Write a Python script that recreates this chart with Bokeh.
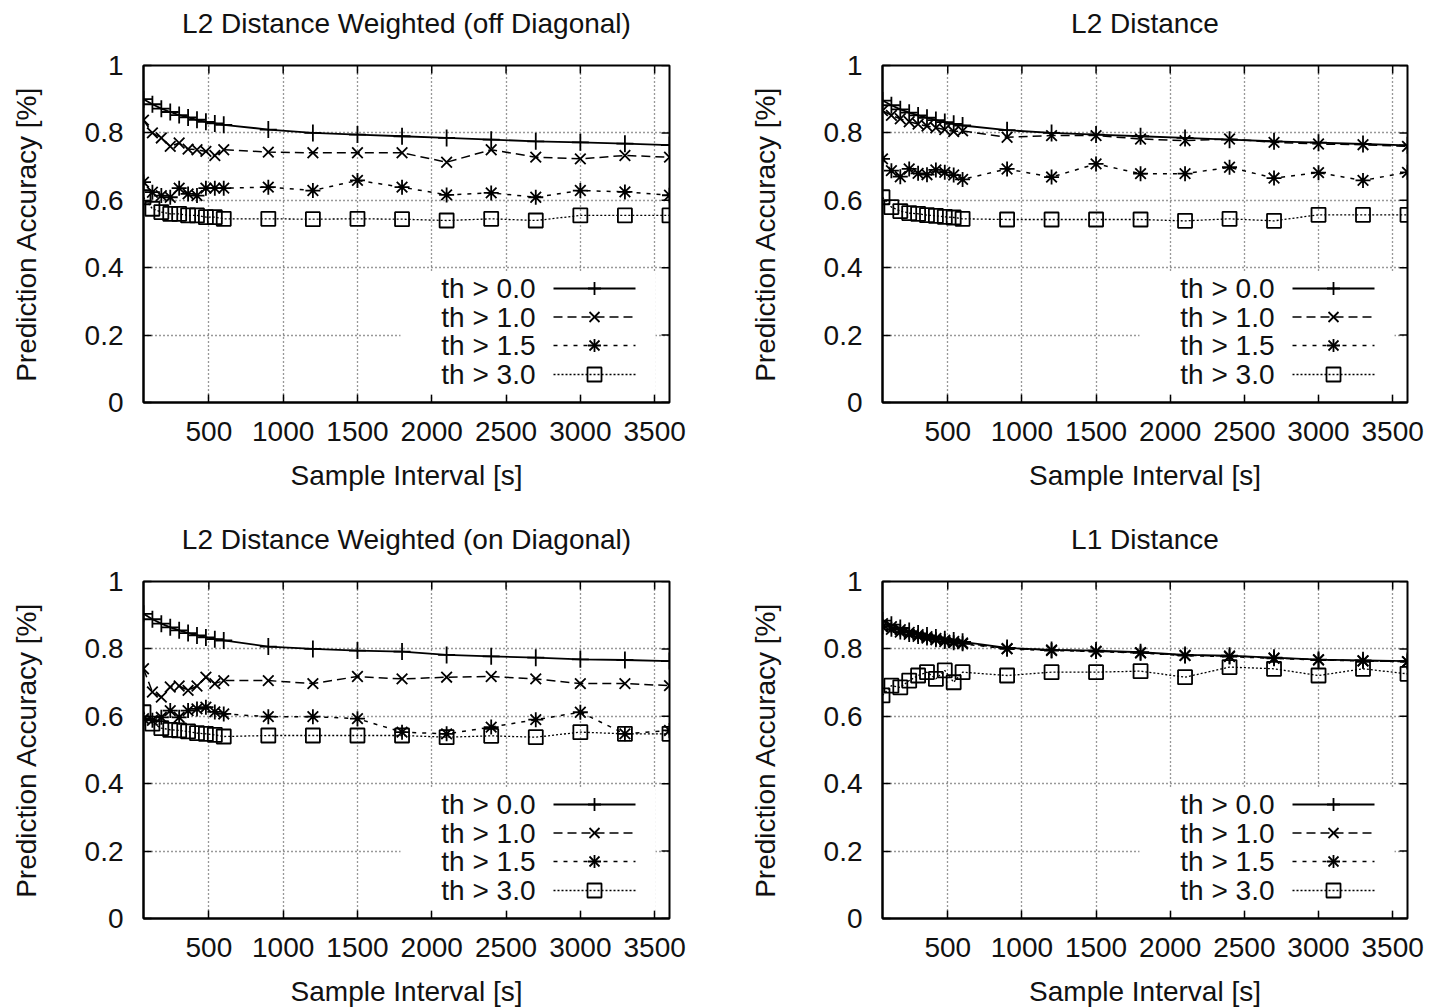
import math
from bokeh.plotting import figure
from bokeh.layouts import column, row
from bokeh.models import (Range1d, FixedTicker, CustomJSTickFormatter, LinearAxis,
                          Label, BoxAnnotation, Arrow)
from bokeh.embed import file_html
from bokeh.resources import INLINE

FONT = "Liberation Sans"

# ---------------- data ----------------
x_vals = [60, 120, 180, 240, 300, 360, 420, 480, 540, 600,
          900, 1200, 1500, 1800, 2100, 2400, 2700, 3000, 3300, 3600]
series_labels = ["th > 0.0", "th > 1.0", "th > 1.5", "th > 3.0"]
x_ticks = [500, 1000, 1500, 2000, 2500, 3000, 3500]
y_ticks = [0, 0.2, 0.4, 0.6, 0.8, 1]
x_title = "Sample Interval [s]"
y_title = "Prediction Accuracy [%]"

title_off_diag = "L2 Distance Weighted (off Diagonal)"
off_th00 = [0.900, 0.885, 0.872, 0.862, 0.853, 0.846, 0.839, 0.833, 0.828, 0.824,
            0.810, 0.800, 0.795, 0.790, 0.785, 0.780, 0.775, 0.772, 0.768, 0.764]
off_th10 = [0.838, 0.800, 0.785, 0.760, 0.770, 0.752, 0.750, 0.745, 0.733, 0.750,
            0.743, 0.741, 0.741, 0.741, 0.713, 0.750, 0.728, 0.723, 0.733, 0.728]
off_th15 = [0.654, 0.624, 0.614, 0.609, 0.636, 0.619, 0.614, 0.636, 0.636, 0.636,
            0.639, 0.629, 0.659, 0.639, 0.616, 0.622, 0.609, 0.629, 0.625, 0.615]
off_th30 = [0.609, 0.575, 0.565, 0.560, 0.560, 0.555, 0.555, 0.550, 0.550, 0.545,
            0.545, 0.544, 0.545, 0.544, 0.540, 0.545, 0.540, 0.555, 0.555, 0.555]

title_l2 = "L2 Distance"
l2_th00 = [0.896, 0.882, 0.870, 0.860, 0.852, 0.845, 0.838, 0.832, 0.827, 0.822,
           0.808, 0.800, 0.795, 0.790, 0.785, 0.780, 0.775, 0.771, 0.767, 0.763]
l2_th10 = [0.866, 0.852, 0.842, 0.833, 0.826, 0.820, 0.815, 0.810, 0.804, 0.806,
           0.787, 0.792, 0.792, 0.782, 0.777, 0.782, 0.772, 0.767, 0.765, 0.760]
l2_th15 = [0.723, 0.688, 0.670, 0.693, 0.680, 0.676, 0.690, 0.683, 0.675, 0.662,
           0.693, 0.669, 0.708, 0.679, 0.679, 0.698, 0.666, 0.682, 0.659, 0.683]
l2_th30 = [0.609, 0.580, 0.568, 0.562, 0.560, 0.556, 0.554, 0.551, 0.549, 0.545,
           0.543, 0.543, 0.543, 0.543, 0.539, 0.545, 0.539, 0.557, 0.557, 0.557]

title_on_diag = "L2 Distance Weighted (on Diagonal)"
on_th00 = [0.904, 0.888, 0.875, 0.864, 0.855, 0.847, 0.840, 0.834, 0.829, 0.825,
           0.807, 0.800, 0.795, 0.792, 0.782, 0.778, 0.774, 0.769, 0.767, 0.764]
on_th10 = [0.741, 0.672, 0.657, 0.687, 0.690, 0.677, 0.690, 0.716, 0.697, 0.706,
           0.706, 0.697, 0.718, 0.711, 0.716, 0.718, 0.711, 0.697, 0.697, 0.691]
on_th15 = [0.593, 0.588, 0.597, 0.617, 0.597, 0.617, 0.622, 0.627, 0.613, 0.607,
           0.599, 0.599, 0.593, 0.553, 0.548, 0.568, 0.590, 0.612, 0.548, 0.558]
on_th30 = [0.612, 0.578, 0.565, 0.560, 0.558, 0.555, 0.550, 0.548, 0.545, 0.540,
           0.543, 0.543, 0.543, 0.543, 0.538, 0.542, 0.538, 0.553, 0.548, 0.548]

title_l1 = "L1 Distance"
l1_th00 = [0.884, 0.872, 0.862, 0.853, 0.846, 0.840, 0.834, 0.829, 0.825, 0.821,
           0.803, 0.797, 0.795, 0.790, 0.782, 0.780, 0.774, 0.768, 0.766, 0.764]
l1_th10 = [0.875, 0.866, 0.857, 0.849, 0.842, 0.836, 0.831, 0.826, 0.822, 0.818,
           0.801, 0.797, 0.793, 0.789, 0.781, 0.779, 0.773, 0.768, 0.765, 0.762]
l1_th15 = [0.866, 0.858, 0.850, 0.843, 0.837, 0.832, 0.827, 0.822, 0.818, 0.815,
           0.800, 0.795, 0.792, 0.788, 0.780, 0.777, 0.772, 0.767, 0.764, 0.762]
l1_th30 = [0.662, 0.691, 0.686, 0.706, 0.721, 0.731, 0.711, 0.736, 0.701, 0.731,
           0.721, 0.731, 0.731, 0.734, 0.716, 0.746, 0.741, 0.721, 0.741, 0.726]

# ---------------- styles ----------------
STYLES = [
    dict(dash="solid", marker="cross", size=17, lw=1.8),
    dict(dash="9 5", marker="x", size=15, lw=1.5),
    dict(dash="4 6", marker="asterisk", size=15, lw=1.5),
    dict(dash="2 2", marker="square", size=14, lw=1.3),
]

X_START, X_END = 60, 3600
Y_START, Y_END = 0, 1
FRAME_W_L, FRAME_W_R, FRAME_H = 526, 525, 337
TEXT_COLOR = "#111111"

# key geometry (pixels, relative to the frame's bottom-left corner)
KEY_BOX = (257, 512, 8, 130)
KEY_TEXT_RIGHT = 392
KEY_LINE = (410, 492)
KEY_ROWS = [114, 85.5, 57, 28]


def seg(p, x0, y0, x1, y1, dash="solid", w=1.6):
    p.add_layout(Arrow(end=None, x_start=x0, y_start=y0, x_end=x1, y_end=y1,
                       start_units="screen", end_units="screen",
                       line_color="black", line_width=w, line_dash=dash))


def key_marker(p, marker, cx, cy):
    h = 6.5
    d = 5
    if marker in ("cross", "asterisk"):
        seg(p, cx - h, cy, cx + h, cy, w=1.8)
        seg(p, cx, cy - h, cx, cy + h, w=1.8)
    if marker in ("x", "asterisk"):
        seg(p, cx - d, cy - d, cx + d, cy + d, w=1.8)
        seg(p, cx - d, cy + d, cx + d, cy - d, w=1.8)
    if marker == "square":
        p.add_layout(BoxAnnotation(left=cx - 7, right=cx + 7, bottom=cy - 7, top=cy + 7,
                                   left_units="screen", right_units="screen",
                                   bottom_units="screen", top_units="screen",
                                   fill_alpha=0, line_color="black", line_width=1.8,
                                   line_alpha=1.0))


def make_panel(title, series, right_col, bottom_row):
    fw = FRAME_W_R if right_col else FRAME_W_L
    p = figure(frame_width=fw, frame_height=FRAME_H,
               x_range=Range1d(X_START, X_END), y_range=Range1d(Y_START, Y_END),
               output_backend="svg", toolbar_location=None,
               min_border_left=143, min_border_right=23 if right_col else 70,
               min_border_top=65, min_border_bottom=89 if bottom_row else 114)
    p.background_fill_color = "white"
    p.border_fill_color = "white"
    p.outline_line_color = "black"
    p.outline_line_width = 2

    bottom_axis = p.below[0]
    left_axis = p.left[0]
    bottom_axis.ticker = FixedTicker(ticks=x_ticks)
    left_axis.ticker = FixedTicker(ticks=y_ticks)
    left_axis.formatter = CustomJSTickFormatter(code="return String(tick);")
    bottom_axis.axis_label = x_title
    left_axis.axis_label = y_title
    for ax in (bottom_axis, left_axis):
        ax.major_label_text_font = FONT
        ax.major_label_text_font_size = "28px"
        ax.major_label_text_color = TEXT_COLOR
        ax.axis_label_text_font = FONT
        ax.axis_label_text_font_size = "28px"
        ax.axis_label_text_font_style = "normal"
        ax.axis_label_text_color = TEXT_COLOR
        ax.major_tick_in = 8
        ax.major_tick_out = 0
        ax.minor_tick_in = 0
        ax.minor_tick_out = 0
        ax.major_tick_line_width = 1.5
        ax.axis_line_width = 2
    bottom_axis.major_label_standoff = 19
    bottom_axis.axis_label_standoff = 16
    left_axis.major_label_standoff = 20
    left_axis.axis_label_standoff = 40

    p.xgrid.ticker = FixedTicker(ticks=x_ticks)
    p.ygrid.ticker = FixedTicker(ticks=y_ticks)
    p.grid.grid_line_color = "#333333"
    p.grid.grid_line_dash = "1 3"
    p.grid.grid_line_width = 1.3

    # panel title: label of a tick-less axis above the frame
    top_axis = LinearAxis(ticker=FixedTicker(ticks=[]), axis_label=title,
                          axis_line_color=None, major_tick_line_color=None,
                          minor_tick_line_color=None, axis_label_standoff=27,
                          major_tick_in=0, major_tick_out=0,
                          minor_tick_in=0, minor_tick_out=0,
                          axis_label_text_font=FONT, axis_label_text_font_size="28px",
                          axis_label_text_font_style="normal",
                          axis_label_text_color=TEXT_COLOR)
    p.add_layout(top_axis, "above")

    # mirrored inward tick marks on the top and right borders (outer half is clipped)
    p.scatter(x_ticks, [Y_END] * len(x_ticks), marker="dash", angle=math.pi / 2, size=16,
              line_color="black", line_width=1.5)
    p.scatter([X_END] * len(y_ticks), y_ticks, marker="dash", size=16,
              line_color="black", line_width=1.5)

    for ys, st in zip(series, STYLES):
        p.line(x_vals, ys, line_color="black", line_width=st["lw"], line_dash=st["dash"])
        p.scatter(x_vals, ys, marker=st["marker"], size=st["size"], line_color="black",
                  fill_color=None, line_width=1.8)

    # key: white background, texts, sample lines and marks
    l, r, b, t = KEY_BOX
    p.add_layout(BoxAnnotation(left=l, right=r, bottom=b, top=t,
                               left_units="screen", right_units="screen",
                               bottom_units="screen", top_units="screen",
                               fill_color="white", fill_alpha=1.0, line_color=None))
    x0, x1 = KEY_LINE
    for lab, yy, st in zip(series_labels, KEY_ROWS, STYLES):
        p.add_layout(Label(x=KEY_TEXT_RIGHT, y=yy, x_units="screen", y_units="screen",
                           text=lab, text_align="right", text_baseline="middle",
                           text_font=FONT, text_font_size="28px", text_color=TEXT_COLOR))
        seg(p, x0, yy, x1, yy, dash=st["dash"], w=st["lw"])
        key_marker(p, st["marker"], (x0 + x1) / 2, yy)
    return p


p1 = make_panel(title_off_diag, [off_th00, off_th10, off_th15, off_th30], False, False)
p2 = make_panel(title_l2, [l2_th00, l2_th10, l2_th15, l2_th30], True, False)
p3 = make_panel(title_on_diag, [on_th00, on_th10, on_th15, on_th30], False, True)
p4 = make_panel(title_l1, [l1_th00, l1_th10, l1_th15, l1_th30], True, True)

layout = column(row(p1, p2), row(p3, p4))
open("out.html", "w").write(file_html(layout, INLINE))
